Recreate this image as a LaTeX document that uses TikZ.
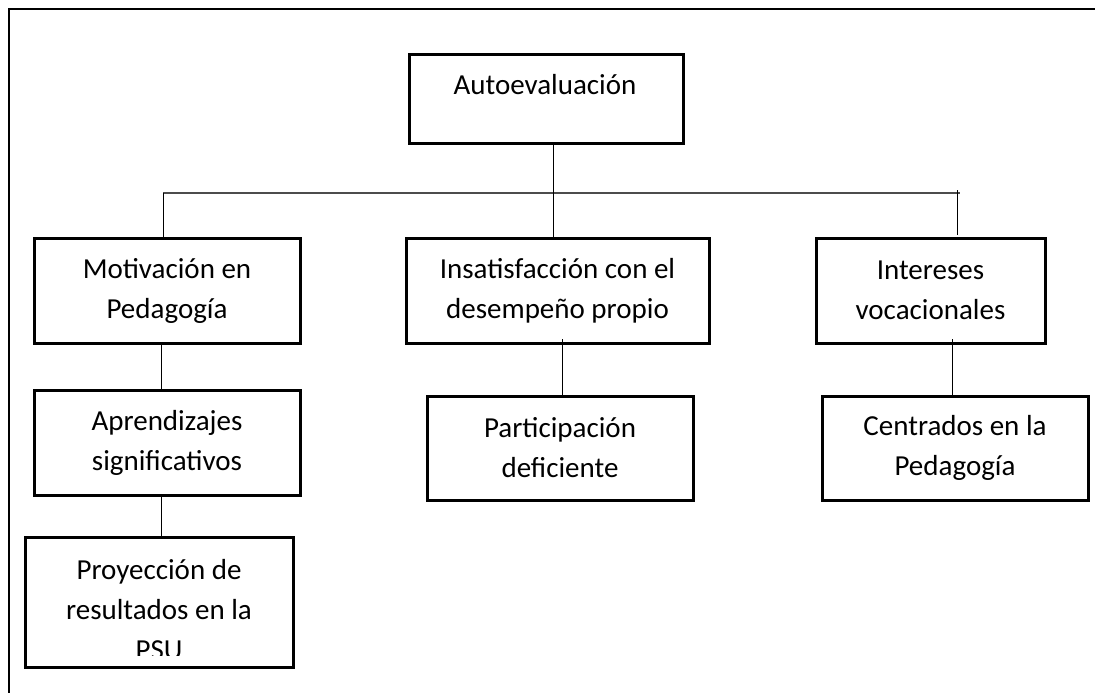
\documentclass[tikz,border=0pt]{standalone}
\usepackage{fontspec}
\setmainfont{Carlito}
\begin{document}
\begin{tikzpicture}[x=1pt,y=-1pt,
  box/.style={draw=black,line width=3pt,rectangle,inner sep=0pt,align=center,
    font=\fontsize{29}{40}\selectfont},
  txt/.style={inner sep=0pt,align=center,font=\fontsize{29}{40}\selectfont},
  conn/.style={draw=black,line width=1pt},
  hconn/.style={draw=black!70,line width=1.4pt}]
\useasboundingbox (0,0) rectangle (1095,693);
% frame
\draw[line width=2pt] (9,693) -- (9,9) -- (1095,9);
% boxes
\node[box,minimum width=274pt,minimum height=88pt] (auto) at (546,99) {};
\node[txt] (tauto) at (545,85) {Autoevaluación};
\node[box,minimum width=266pt,minimum height=105pt] (mot) at (167,290.5) {Motivación en\\Pedagogía};
\node[box,minimum width=303pt,minimum height=105pt] (ins) at (557.5,290.5) {Insatisfacción con el\\desempeño propio};
\node[box,minimum width=229pt,minimum height=105pt] (int) at (930.5,290.5) {Intereses\\vocacionales};
\node[box,minimum width=266pt,minimum height=105pt] (apr) at (167,442.5) {Aprendizajes\\significativos};
\node[box,minimum width=266pt,minimum height=104pt] (par) at (560,448) {Participación\\deficiente};
\node[box,minimum width=266pt,minimum height=104pt] (cen) at (955,448) {Centrados en la\\Pedagogía};
\node[box,minimum width=268pt,minimum height=130pt] (pro) at (159,602) {};
\begin{scope}
  \clip (26,538) rectangle (292,655);
  \node[txt] (tpro) at (159,610) {Proyección de\\resultados en la\\PSU};
\end{scope}
% connectors
\coordinate (hl) at (163,193);
\coordinate (hr) at (960,193);
\draw[hconn] (hl) -- (hr);
\draw[conn] (auto.south -| 553,0) -- (ins.north -| 553,0);
\draw[conn] (hl) -- (mot.north -| hl);
\draw[conn] (957,190) -- (957,235);
\draw[conn] (mot.south -| 161,0) -- (apr.north -| 161,0);
\draw[conn] (apr.south -| 161,0) -- (pro.north -| 161,0);
\draw[conn] (562,339) -- (par.north -| 562,0);
\draw[conn] (952,339) -- (cen.north -| 952,0);
\end{tikzpicture}
\end{document}
